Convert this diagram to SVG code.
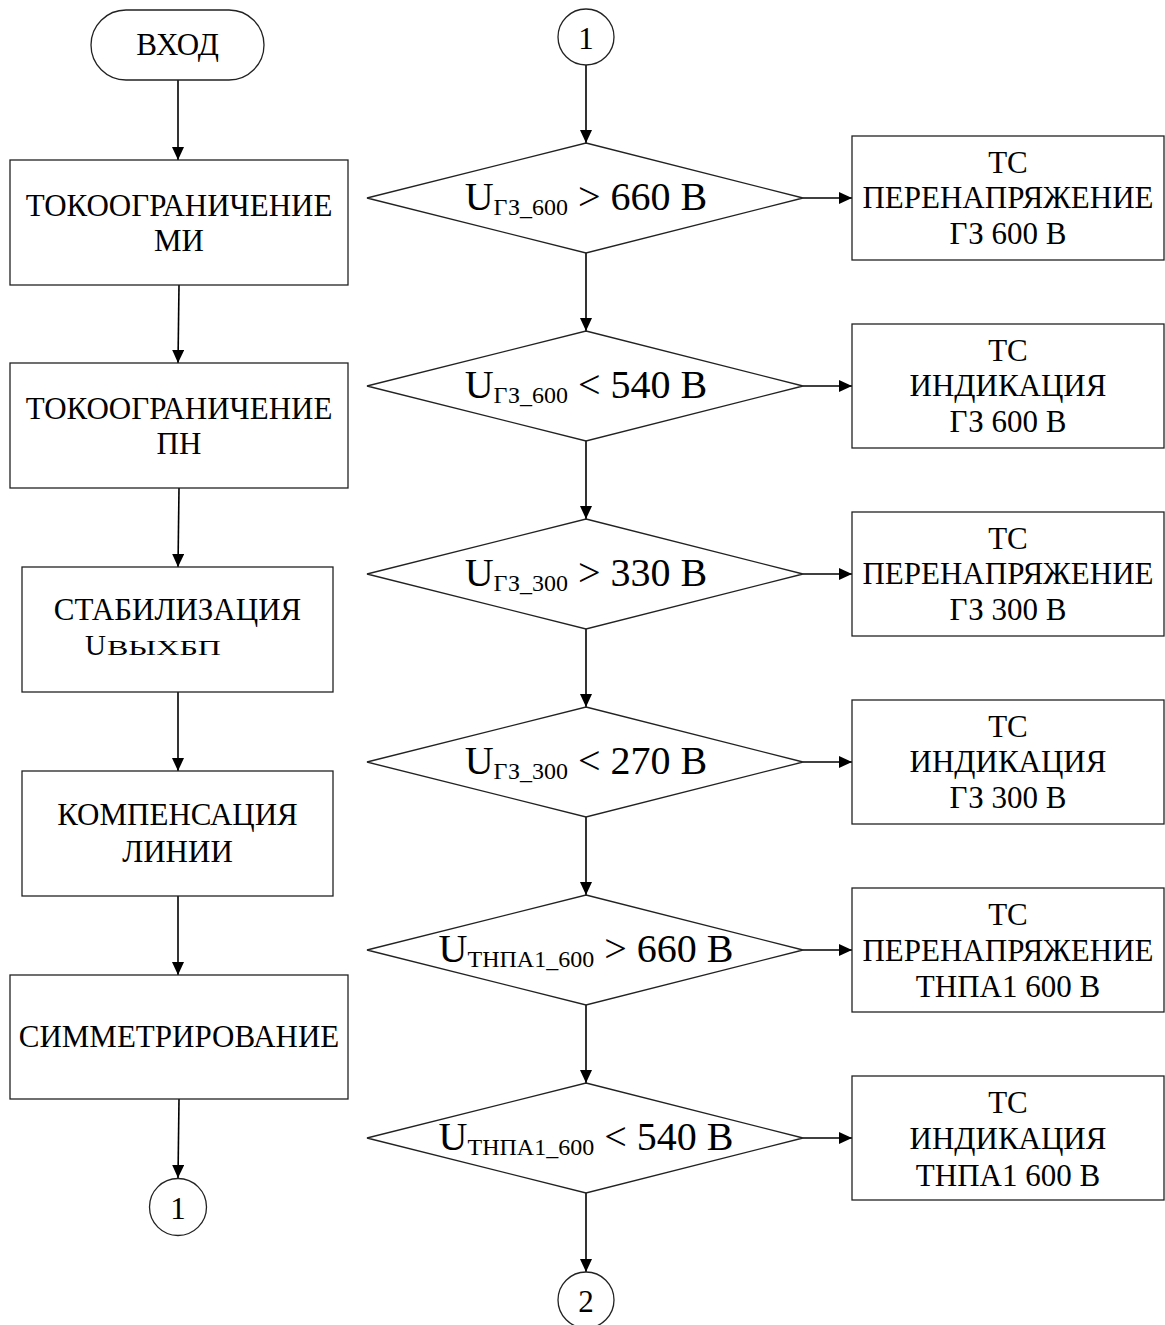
<svg xmlns="http://www.w3.org/2000/svg" width="1165" height="1325" viewBox="0 0 1165 1325" font-family="'Liberation Serif', 'Times New Roman', serif">
  <style>
    .shape { fill: #fff; stroke: #222; stroke-width: 1.3; }
    .link { fill: none; stroke: #000; stroke-width: 1.6; marker-end: url(#arr); }
    text { font-family: "Liberation Serif", "Times New Roman", serif; fill: #000; }
    .lbl { font-size: 31px; text-anchor: middle; }
    .cond { font-size: 40px; text-anchor: middle; }
    .sub { font-size: 24px; }
  </style>
  <defs>
    <marker id="arr" viewBox="0 0 13 12" refX="13" refY="6" markerWidth="13" markerHeight="12" markerUnits="userSpaceOnUse" orient="auto">
      <path d="M0,0 L13,6 L0,12 z" fill="#000"/>
    </marker>
  </defs>
  <rect width="1165" height="1325" fill="#fff"/>

  <!-- connectors -->
  <g id="connectors">
    <!-- left column -->
    <line class="link" x1="178" y1="80" x2="178" y2="160"/>
    <line class="link" x1="179" y1="285" x2="178" y2="363"/>
    <line class="link" x1="179" y1="488" x2="178" y2="567"/>
    <line class="link" x1="178" y1="692" x2="178" y2="771"/>
    <line class="link" x1="178" y1="896" x2="178" y2="975"/>
    <line class="link" x1="179" y1="1099" x2="178" y2="1178"/>
    <!-- centre column -->
    <line class="link" x1="586" y1="65" x2="586" y2="143"/>
    <line class="link" x1="586" y1="253" x2="586" y2="331"/>
    <line class="link" x1="586" y1="441" x2="586" y2="519"/>
    <line class="link" x1="586" y1="629" x2="586" y2="707"/>
    <line class="link" x1="586" y1="817" x2="586" y2="895"/>
    <line class="link" x1="586" y1="1005" x2="586" y2="1083"/>
    <line class="link" x1="586" y1="1193" x2="586" y2="1272"/>
    <!-- branches to the right -->
    <line class="link" x1="803" y1="198" x2="852" y2="198"/>
    <line class="link" x1="803" y1="386" x2="852" y2="386"/>
    <line class="link" x1="803" y1="574" x2="852" y2="574"/>
    <line class="link" x1="803" y1="762" x2="852" y2="762"/>
    <line class="link" x1="803" y1="950" x2="852" y2="950"/>
    <line class="link" x1="803" y1="1138" x2="852" y2="1138"/>
  </g>

  <!-- left column -->
  <g id="start">
    <rect class="shape" x="91" y="10" width="173" height="70" rx="35" ry="35"/>
    <text class="lbl" x="177.5" y="55">ВХОД</text>
  </g>
  <g id="limit-mi">
    <rect class="shape" x="10" y="160" width="338" height="125"/>
    <text class="lbl" x="179" y="216">ТОКООГРАНИЧЕНИЕ</text>
    <text class="lbl" x="179" y="251">МИ</text>
  </g>
  <g id="limit-pn">
    <rect class="shape" x="10" y="363" width="338" height="125"/>
    <text class="lbl" x="179" y="419">ТОКООГРАНИЧЕНИЕ</text>
    <text class="lbl" x="179" y="454">ПН</text>
  </g>
  <g id="stabilize">
    <rect class="shape" x="22" y="567" width="311" height="125"/>
    <text class="lbl" x="177.5" y="620">СТАБИЛИЗАЦИЯ</text>
    <text x="85" y="655" font-size="29">U</text>
    <text x="107" y="655" font-size="21" textLength="114" lengthAdjust="spacingAndGlyphs">ВЫХБП</text>
  </g>
  <g id="compensate">
    <rect class="shape" x="22" y="771" width="311" height="125"/>
    <text class="lbl" x="177.5" y="825">КОМПЕНСАЦИЯ</text>
    <text class="lbl" x="177.5" y="862">ЛИНИИ</text>
  </g>
  <g id="balance">
    <rect class="shape" x="10" y="975" width="338" height="124"/>
    <text class="lbl" x="179" y="1047">СИММЕТРИРОВАНИЕ</text>
  </g>
  <g id="link-out-1">
    <circle class="shape" cx="178" cy="1207" r="28.5"/>
    <text class="lbl" x="178" y="1219">1</text>
  </g>

  <!-- centre column -->
  <g id="link-in-1">
    <circle class="shape" cx="586" cy="37" r="28"/>
    <text class="lbl" x="586" y="49">1</text>
  </g>
  <g id="check-gz600-high">
    <polygon class="shape" points="586,143 803,198 586,253 367,198"/>
    <text class="cond" x="586" y="210">U<tspan class="sub" dy="5">ГЗ_600</tspan><tspan dy="-5"> &gt; 660 В</tspan></text>
  </g>
  <g id="check-gz600-low">
    <polygon class="shape" points="586,331 803,386 586,441 367,386"/>
    <text class="cond" x="586" y="398">U<tspan class="sub" dy="5">ГЗ_600</tspan><tspan dy="-5"> &lt; 540 В</tspan></text>
  </g>
  <g id="check-gz300-high">
    <polygon class="shape" points="586,519 803,574 586,629 367,574"/>
    <text class="cond" x="586" y="586">U<tspan class="sub" dy="5">ГЗ_300</tspan><tspan dy="-5"> &gt; 330 В</tspan></text>
  </g>
  <g id="check-gz300-low">
    <polygon class="shape" points="586,707 803,762 586,817 367,762"/>
    <text class="cond" x="586" y="774">U<tspan class="sub" dy="5">ГЗ_300</tspan><tspan dy="-5"> &lt; 270 В</tspan></text>
  </g>
  <g id="check-tnpa1-high">
    <polygon class="shape" points="586,895 803,950 586,1005 367,950"/>
    <text class="cond" x="586" y="962">U<tspan class="sub" dy="5">ТНПА1_600</tspan><tspan dy="-5"> &gt; 660 В</tspan></text>
  </g>
  <g id="check-tnpa1-low">
    <polygon class="shape" points="586,1083 803,1138 586,1193 367,1138"/>
    <text class="cond" x="586" y="1150">U<tspan class="sub" dy="5">ТНПА1_600</tspan><tspan dy="-5"> &lt; 540 В</tspan></text>
  </g>
  <g id="link-out-2">
    <circle class="shape" cx="586" cy="1300" r="28"/>
    <text class="lbl" x="586" y="1312">2</text>
  </g>

  <!-- right column: telesignal outputs -->
  <g id="ts-overvolt-gz600">
    <rect class="shape" x="852" y="136" width="312" height="124"/>
    <text class="lbl" x="1008" y="173">ТС</text>
    <text class="lbl" x="1008" y="208">ПЕРЕНАПРЯЖЕНИЕ</text>
    <text class="lbl" x="1008" y="244">ГЗ 600 В</text>
  </g>
  <g id="ts-indication-gz600">
    <rect class="shape" x="852" y="324" width="312" height="124"/>
    <text class="lbl" x="1008" y="361">ТС</text>
    <text class="lbl" x="1008" y="396">ИНДИКАЦИЯ</text>
    <text class="lbl" x="1008" y="432">ГЗ 600 В</text>
  </g>
  <g id="ts-overvolt-gz300">
    <rect class="shape" x="852" y="512" width="312" height="124"/>
    <text class="lbl" x="1008" y="549">ТС</text>
    <text class="lbl" x="1008" y="584">ПЕРЕНАПРЯЖЕНИЕ</text>
    <text class="lbl" x="1008" y="620">ГЗ 300 В</text>
  </g>
  <g id="ts-indication-gz300">
    <rect class="shape" x="852" y="700" width="312" height="124"/>
    <text class="lbl" x="1008" y="737">ТС</text>
    <text class="lbl" x="1008" y="772">ИНДИКАЦИЯ</text>
    <text class="lbl" x="1008" y="808">ГЗ 300 В</text>
  </g>
  <g id="ts-overvolt-tnpa1">
    <rect class="shape" x="852" y="888" width="312" height="124"/>
    <text class="lbl" x="1008" y="925">ТС</text>
    <text class="lbl" x="1008" y="961">ПЕРЕНАПРЯЖЕНИЕ</text>
    <text class="lbl" x="1008" y="997">ТНПА1 600 В</text>
  </g>
  <g id="ts-indication-tnpa1">
    <rect class="shape" x="852" y="1076" width="312" height="124"/>
    <text class="lbl" x="1008" y="1113">ТС</text>
    <text class="lbl" x="1008" y="1149">ИНДИКАЦИЯ</text>
    <text class="lbl" x="1008" y="1186">ТНПА1 600 В</text>
  </g>
</svg>
